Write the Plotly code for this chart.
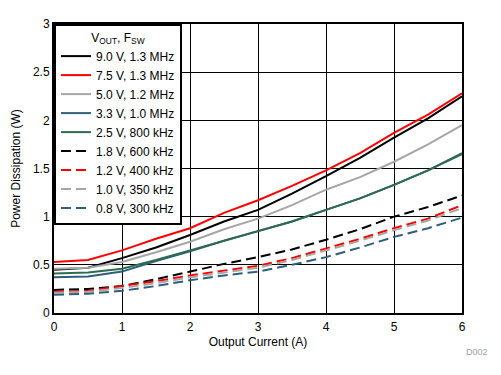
import plotly.graph_objects as go

current = [0, 0.5, 1, 1.5, 2, 2.5, 3, 3.5, 4, 4.5, 5, 5.5, 6]

labels = ["9.0 V, 1.3 MHz", "7.5 V, 1.3 MHz", "5.0 V, 1.2 MHz", "3.3 V, 1.0 MHz",
          "2.5 V, 800 kHz", "1.8 V, 600 kHz", "1.2 V, 400 kHz", "1.0 V, 350 kHz",
          "0.8 V, 300 kHz"]

p_9v0 = [0.45, 0.47, 0.57, 0.68, 0.81, 0.95, 1.07, 1.24, 1.42, 1.61, 1.82, 2.02, 2.25]
p_7v5 = [0.53, 0.55, 0.65, 0.77, 0.88, 1.04, 1.17, 1.32, 1.48, 1.66, 1.87, 2.06, 2.28]
p_5v0 = [0.46, 0.47, 0.53, 0.63, 0.74, 0.87, 0.98, 1.12, 1.28, 1.41, 1.57, 1.75, 1.95]
p_3v3 = [0.37, 0.38, 0.43, 0.54, 0.64, 0.75, 0.85, 0.95, 1.07, 1.19, 1.33, 1.48, 1.65]
p_2v5 = [0.41, 0.42, 0.46, 0.55, 0.65, 0.75, 0.85, 0.95, 1.07, 1.19, 1.33, 1.48, 1.66]
p_1v8 = [0.24, 0.25, 0.28, 0.35, 0.43, 0.51, 0.58, 0.66, 0.76, 0.87, 1.00, 1.10, 1.22]
p_1v2 = [0.22, 0.23, 0.28, 0.33, 0.39, 0.44, 0.49, 0.57, 0.67, 0.77, 0.88, 0.98, 1.12]
p_1v0 = [0.21, 0.22, 0.26, 0.31, 0.37, 0.42, 0.47, 0.55, 0.65, 0.75, 0.86, 0.96, 1.09]
p_0v8 = [0.19, 0.20, 0.23, 0.28, 0.34, 0.39, 0.43, 0.50, 0.58, 0.68, 0.79, 0.88, 0.99]

series = [p_9v0, p_7v5, p_5v0, p_3v3, p_2v5, p_1v8, p_1v2, p_1v0, p_0v8]
colors = ["#000000", "#FF0000", "#A6A6A6", "#2E5F7A", "#2E6B4F",
          "#000000", "#FF0000", "#A6A6A6", "#2E5F7A"]
dashes = ["solid"] * 5 + ["10px,5px"] * 4

fig = go.Figure()
for lab, ys, c, d in zip(labels, series, colors, dashes):
    fig.add_trace(go.Scatter(x=current, y=ys, mode="lines", name=lab,
                             line=dict(color=c, width=2, dash=d)))

font_family = "Liberation Sans, Arial, sans-serif"
fig.update_layout(
    width=493, height=367,
    margin=dict(l=46, r=39, t=16, b=62, autoexpand=False),
    paper_bgcolor="white", plot_bgcolor="white",
    font=dict(family=font_family, size=12, color="black"),
    showlegend=True,
    legend=dict(
        x=0.0, y=1.0, xanchor="left", yanchor="top",
        bgcolor="white", bordercolor="black", borderwidth=2,
        font=dict(size=12, color="black"),
        title=dict(text="V<sub>OUT</sub>, F<sub>SW</sub>", font=dict(size=12),
                   side="top center"),
        itemwidth=30, tracegroupgap=0,
    ),
    xaxis=dict(range=[0, 6], dtick=1, showgrid=True, gridcolor="black", gridwidth=1,
               showline=True, linecolor="black", linewidth=2, mirror=True,
               ticks="", zeroline=False, automargin=False, ticklabelstandoff=2,
               title=dict(text="Output Current (A)", font=dict(size=12), standoff=4),
               tickfont=dict(size=12)),
    yaxis=dict(range=[0, 3], dtick=0.5, showgrid=True, gridcolor="black", gridwidth=1,
               showline=True, linecolor="black", linewidth=2, mirror=True,
               ticks="", zeroline=False, automargin=False,
               title=dict(text="Power Dissipation (W)", font=dict(size=12), standoff=10),
               tickfont=dict(size=12)),
    annotations=[dict(text="D002", xref="paper", yref="paper", x=1.069, y=-0.11,
                      xanchor="right", yanchor="top", showarrow=False,
                      font=dict(size=9, color="#A0A0A0"))],
)

fig.write_html("out.html")
